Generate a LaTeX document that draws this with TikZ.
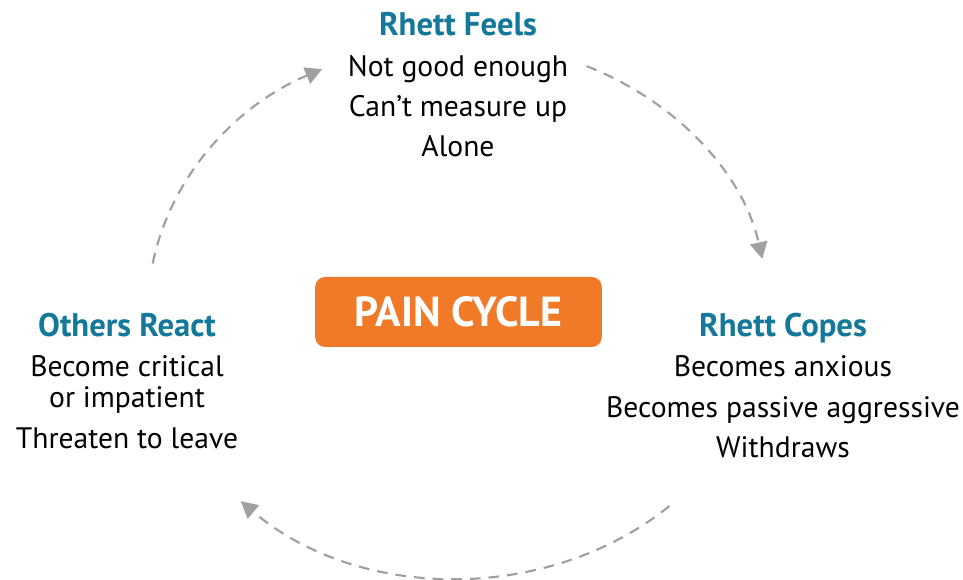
\documentclass[tikz,border=0pt]{standalone}
\usepackage{fontspec}
\setmainfont{PT Sans}
\usetikzlibrary{arrows.meta,calc}
\definecolor{teal1}{HTML}{13789A}
\definecolor{orng}{HTML}{F07A28}
\definecolor{arcgray}{HTML}{A0A0A0}
\begin{document}
\begin{tikzpicture}[x=0.75pt,y=-0.75pt,
  head/.style={anchor=base,inner sep=0pt,font=\fontsize{24.5pt}{28pt}\selectfont\bfseries,text=teal1},
  body/.style={anchor=base,inner sep=0pt,font=\fontsize{22.2pt}{26pt}\selectfont,text=black},
  cyc/.style={draw=arcgray,line width=1.6pt,dash pattern=on 8pt off 6pt,-{Triangle[length=12.5pt,width=13pt]},arcgray}]
\useasboundingbox (0,0) rectangle (963,580);
% centre box
\node[fill=orng,rounded corners=7.5pt,minimum width=215pt,minimum height=52.5pt,inner sep=0pt,
  text=white,font=\fontsize{31.5pt}{36pt}\selectfont\bfseries] (pain) at (458.5,312) {PAIN CYCLE};
% top block
\node[head] (fh) at (458,36) {Rhett Feels};
\node[body] (f1) at (458,77) {Not good enough};
\node[body] (f2) at (458,117) {Can’t measure up};
\node[body] (f3) at (458,157) {Alone};
% right block
\node[head] (ch) at (783,337) {Rhett Copes};
\node[body] (c1) at (783,377) {Becomes anxious};
\node[body] (c2) at (783,417) {Becomes passive aggressive};
\node[body] (c3) at (783,457) {Withdraws};
% left block
\node[head] (rh) at (127,337) {Others React};
\node[body] (r1) at (127,377) {Become critical};
\node[body] (r2) at (127,408) {or impatient};
\node[body] (r3) at (127,448) {Threaten to leave};
% cycle arcs
\coordinate (ctr) at (458,310);
\draw[cyc] ($(ctr)+({310*cos(190)},{268*sin(190)})$) arc[start angle=190,end angle=244,x radius=310,y radius=268];
\draw[cyc] ($(ctr)+({310*cos(294.5)},{268*sin(294.5)})$) arc[start angle=294.5,end angle=349,x radius=310,y radius=268];
\draw[cyc] ($(ctr)+({310*cos(47)},{268*sin(47)})$) arc[start angle=47,end angle=134.5,x radius=310,y radius=268];
\end{tikzpicture}
\end{document}
